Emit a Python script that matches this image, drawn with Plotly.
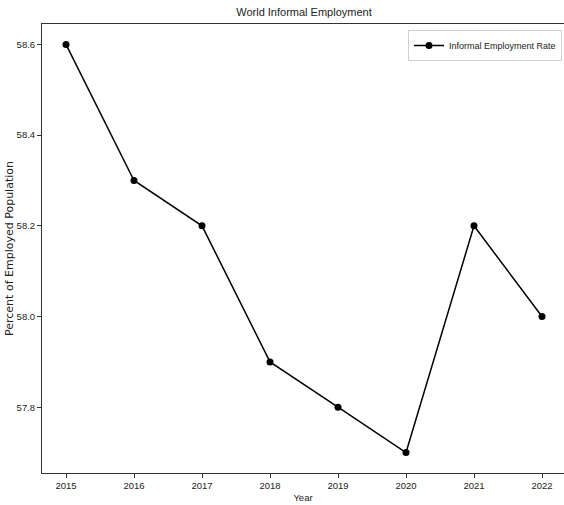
import plotly.graph_objects as go

years = [2015, 2016, 2017, 2018, 2019, 2020, 2021, 2022]
rates = [58.6, 58.3, 58.2, 57.9, 57.8, 57.7, 58.2, 58.0]
y_ticks = [57.8, 58.0, 58.2, 58.4, 58.6]

FONT = "Liberation Sans Narrow, Arial Narrow, Liberation Sans, sans-serif"

L, T, B_EDGE = 42, 24, 473
fig = go.Figure()
fig.add_trace(go.Scatter(
    x=years, y=rates, mode="lines+markers", name="Informal Employment Rate",
    line=dict(color="black", width=1.5),
    marker=dict(color="black", size=7, symbol="circle"),
))

fig.update_layout(
    width=564, height=505,
    margin=dict(l=L, r=0, t=T, b=505 - B_EDGE, autoexpand=False),
    paper_bgcolor="white", plot_bgcolor="white",
    font=dict(family=FONT, size=10, color="#222"),
    title=dict(text="World Informal Employment", x=304 / 564, xanchor="center",
               y=1 - 12 / 505, yanchor="middle", font=dict(size=11, color="#222")),
    showlegend=True,
    legend=dict(x=(562 - L) / (564 - L), xanchor="right", y=1 - 6 / 449, yanchor="top",
                bgcolor="white", bordercolor="#d0d0d0", borderwidth=1,
                itemwidth=30, font=dict(size=9, color="#222")),
)
x0 = 2015 - 24 / 68
fig.update_xaxes(
    range=[x0, x0 + (564 - L) / 68],
    tickmode="array", tickvals=years, ticktext=[str(y) for y in years],
    tickfont=dict(size=9.5),
    showline=True, linecolor="#333", linewidth=1, mirror=True,
    ticks="outside", ticklen=4, tickcolor="#333", showgrid=False, zeroline=False,
    automargin=False,
    title=dict(text="Year", font=dict(size=9.5), standoff=3),
)
fig.update_yaxes(
    range=[57.655, 58.645],
    tickmode="array", tickvals=y_ticks, ticktext=[f"{v:.1f}" for v in y_ticks],
    tickfont=dict(size=9.5),
    showline=True, linecolor="#333", linewidth=1,
    ticks="outside", ticklen=4, tickcolor="#333", showgrid=False, zeroline=False,
    automargin=False,
    title=dict(text="Percent of Employed Population", font=dict(family="DejaVu Sans", size=11), standoff=0),
)

fig.write_html("out.html", config={"displayModeBar": False},
               post_script="document.body.style.margin='0';")
